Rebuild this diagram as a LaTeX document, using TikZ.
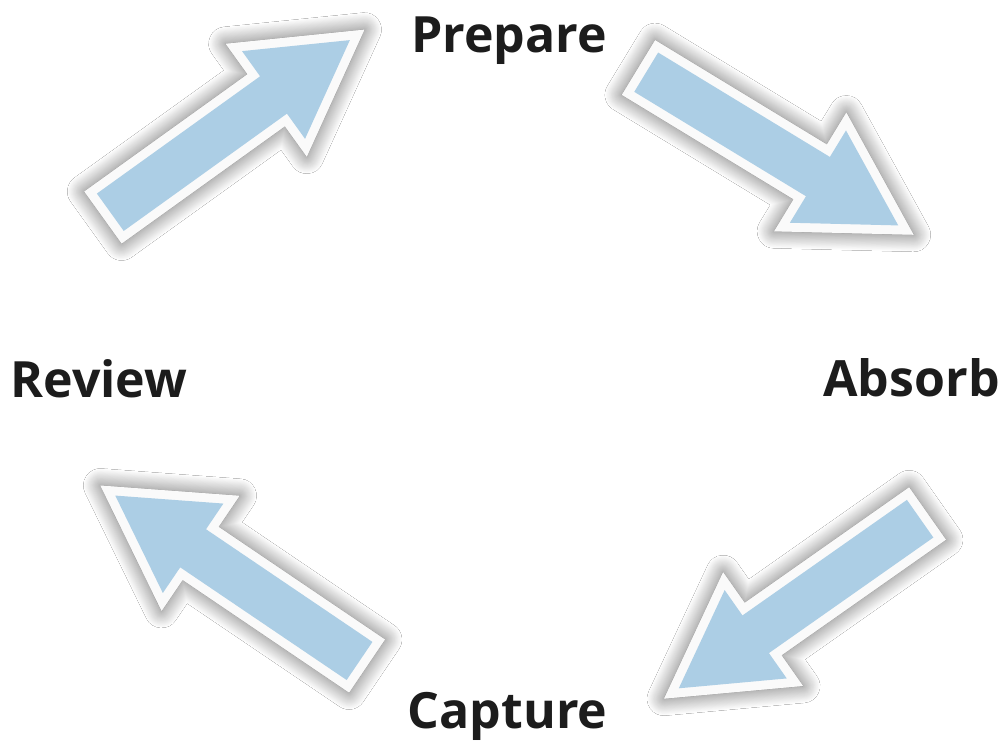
\documentclass[tikz,border=0pt]{standalone}
\usepackage{fontspec}
\setmainfont{Open Sans}
\usetikzlibrary{shadows.blur}
\definecolor{arrowblue}{RGB}{172,206,229}
\definecolor{textblack}{RGB}{28,28,28}
\definecolor{rimwhite}{RGB}{250,250,250}
\newcommand\cyclearrow[4]{% name, tail x, tail y, angle
  \coordinate (#1) at (#2,#3);
  \begin{scope}[shift={(#1)}, rotate=#4]
    \path[arrowouter] (0,-32) -- (201,-32) -- (201,-69.5) -- (322,0) -- (201,69.5) -- (201,32) -- (0,32) -- cycle;
    \path[arrowinner] (9,-23) -- (210,-23) -- (210,-54) -- (304,0) -- (210,54) -- (210,23) -- (9,23) -- cycle;
  \end{scope}}
\begin{document}
\begin{tikzpicture}[x=1pt,y=-1pt,
  steplabel/.style={font=\bfseries\fontsize{50}{50}\selectfont, text=textblack, inner sep=0pt, anchor=base},
  arrowouter/.style={fill=rimwhite, blur shadow={shadow xshift=0pt, shadow yshift=0pt, shadow blur radius=17pt, shadow opacity=60, shadow blur steps=20}},
  arrowinner/.style={fill=arrowblue}]
\useasboundingbox (0,0) rectangle (1003,740);
\fill[white] (0,0) rectangle (1003,740);

\cyclearrow{a1}{103}{217.5}{35.7}
\cyclearrow{a2}{638.5}{67.5}{-31.3}
\cyclearrow{a3}{927.5}{513.5}{-144.9}
\cyclearrow{a4}{367}{666}{145.9}

\node[steplabel] (prepare) at (509,52) {Prepare};
\node[steplabel] (review) at (99,397) {Review};
\node[steplabel] (absorb) at (911.5,396) {Absorb};
\node[steplabel] (capture) at (507.5,728) {Capture};
\end{tikzpicture}
\end{document}
